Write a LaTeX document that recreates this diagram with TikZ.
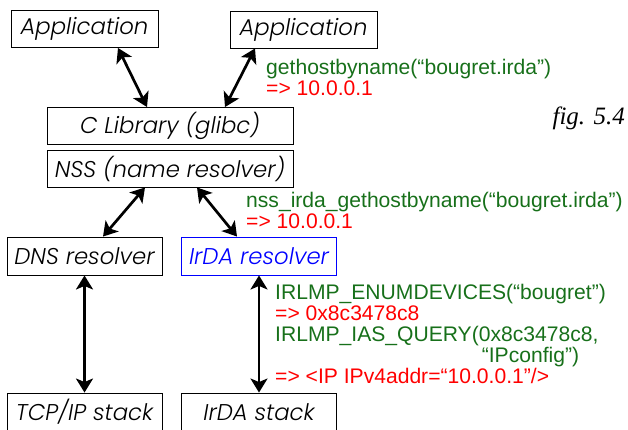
\documentclass[tikz,border=0pt]{standalone}
\usepackage{fontspec}
\setmainfont{Liberation Sans}
\newfontfamily\boxfont{Poppins}[UprightFont={* Light}, ItalicFont={* Light Italic}]
\newfontfamily\figfont{Liberation Serif}
\usetikzlibrary{arrows.meta}
\definecolor{callgreen}{HTML}{17701A}
\definecolor{retred}{HTML}{FF0000}
\definecolor{irdablue}{HTML}{0000FF}
\newcommand{\call}[1]{\textcolor{callgreen}{#1}}
\newcommand{\ret}[1]{\textcolor{retred}{#1}}
\tikzset{
  layer/.style={draw=black, line width=0.9pt, inner sep=0pt,
    font=\boxfont\itshape\fontsize{22.8}{24}\selectfont},
  small/.style={layer, minimum width=147pt, minimum height=37pt},
  wide/.style={layer, minimum width=246pt, minimum height=37pt},
  res/.style={layer, minimum width=155pt, minimum height=38pt},
  bidir/.style={{Stealth[length=14pt,width=17pt,inset=3.5pt]}-{Stealth[length=14pt,width=17pt,inset=3.5pt]},
    line width=2.7pt},
  note/.style={anchor=west, inner sep=0pt, align=left,
    font=\fontsize{21.1}{21}\selectfont},
}

\begin{document}
\begin{tikzpicture}[x=1pt, y=-1pt]
  \useasboundingbox (0,0) rectangle (628,430);
  % applications and the libc layers
  \node[small] (app1) at (84.5,29) {Application};
  \node[small] (app2) at (303.5,29.5) {Application};
  \node[wide] (clib) at (170,126) {C Library (glibc)};
  \node[wide] (nss) at (170,168.5) {NSS (name resolver)};
  % resolvers and stacks
  \node[res] (dns) at (84.5,256) {DNS resolver};
  \node[res, draw=irdablue, text=irdablue] (irres) at (259,256) {IrDA resolver};
  \node[res] (tcp) at (84.5,412) {TCP/IP stack};
  \node[res] (irstack) at (259,412) {IrDA stack};

  \draw[bidir] ([xshift=33.5pt]app1.south) -- ([xshift=-23pt]clib.north);
  \draw[bidir] ([xshift=-48.5pt]app2.south) -- ([xshift=55pt]clib.north);
  \draw[bidir] ([xshift=-25pt]nss.south) -- ([xshift=18.5pt]dns.north);
  \draw[bidir] ([xshift=27pt]nss.south) -- ([xshift=-22pt]irres.north);
  \draw[bidir] (dns.south) -- (tcp.north);
  \draw[bidir] (irres.south) -- (irstack.north);

  % calls and what they return
  \node[note] (ghbn) at (266,77)
    {\call{gethostbyname(“bougret.irda”)}\\ \ret{=> 10.0.0.1}};
  \node[note] (nssirda) at (246,210.5)
    {\call{nss\_irda\_gethostbyname(“bougret.irda”)}\\ \ret{=> 10.0.0.1}};
  \node[note] (irlmp) at (275,334)
    {\call{IRLMP\_ENUMDEVICES(“bougret”)}\\
     \ret{=> 0x8c3478c8}\\
     \call{IRLMP\_IAS\_QUERY(0x8c3478c8,}\\
     \call{\hphantom{IRLMP\_IAS\_QUERY(}\hspace{3pt}“IPconfig”)}\\
     \ret{=> <IP IPv4addr=“10.0.0.1”/>}};

  \node[anchor=east, inner sep=0pt, font=\figfont\itshape\fontsize{25}{27}\selectfont]
    (fig) at (625,118) {fig. 5.4};
\end{tikzpicture}
\end{document}
